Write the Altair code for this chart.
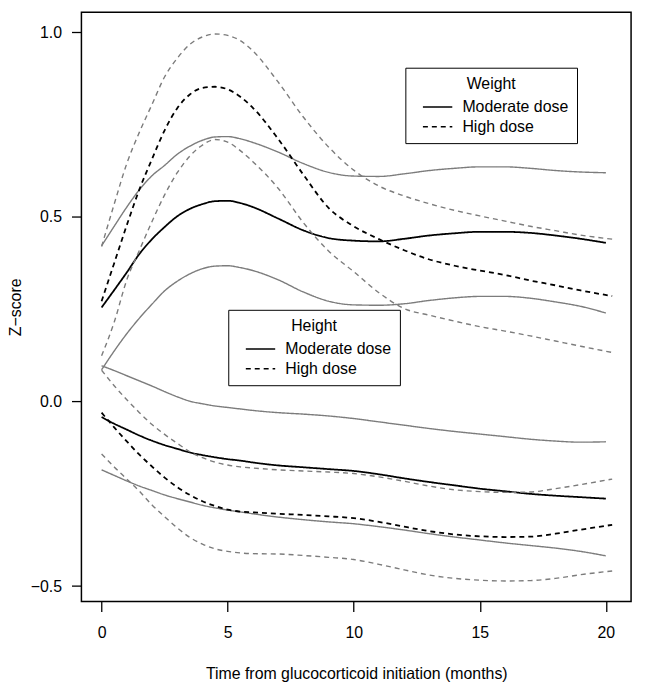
import altair as alt
import pandas as pd

# ---- data ----
X_MOD = [0, 0.5, 1, 1.5, 2, 2.5, 3, 3.5, 4, 4.5, 5, 5.5, 6, 7, 8, 9, 10,
         11, 12, 13, 14, 15, 16, 17, 18, 19, 20]
X_HIGH = [0, 0.5, 1, 1.5, 2, 2.5, 3, 3.5, 4, 4.5, 5, 5.5, 6, 7, 8, 9, 10,
          11, 12, 13, 14, 15, 16, 17, 18, 19, 20.25]

# Weight, moderate dose: estimate, upper and lower limits
W_MOD = [0.255, 0.302, 0.350, 0.400, 0.440, 0.473, 0.502, 0.522, 0.535, 0.543,
         0.544, 0.538, 0.527, 0.496, 0.464, 0.443, 0.436, 0.434, 0.441, 0.450,
         0.456, 0.460, 0.460, 0.457, 0.450, 0.441, 0.430]
W_MOD_UP = [0.422, 0.475, 0.527, 0.574, 0.612, 0.640, 0.670, 0.692, 0.708, 0.717,
            0.718, 0.712, 0.702, 0.676, 0.645, 0.621, 0.611, 0.610, 0.617, 0.626,
            0.632, 0.636, 0.636, 0.632, 0.626, 0.622, 0.620]
W_MOD_LO = [0.086, 0.137, 0.184, 0.226, 0.264, 0.300, 0.326, 0.346, 0.360, 0.367,
            0.368, 0.363, 0.355, 0.330, 0.297, 0.272, 0.262, 0.261, 0.265, 0.274,
            0.281, 0.285, 0.285, 0.280, 0.270, 0.258, 0.240]
# Weight, high dose
W_HIGH = [0.272, 0.375, 0.478, 0.575, 0.657, 0.735, 0.795, 0.832, 0.850, 0.853,
          0.846, 0.826, 0.796, 0.712, 0.615, 0.525, 0.475, 0.440, 0.410, 0.385,
          0.368, 0.355, 0.343, 0.328, 0.315, 0.301, 0.286]
W_HIGH_UP = [0.420, 0.535, 0.645, 0.730, 0.805, 0.880, 0.930, 0.968, 0.988, 0.996,
             0.992, 0.978, 0.950, 0.866, 0.771, 0.690, 0.627, 0.584, 0.557, 0.536,
             0.518, 0.503, 0.489, 0.475, 0.463, 0.451, 0.440]
W_HIGH_LO = [0.124, 0.215, 0.330, 0.410, 0.488, 0.560, 0.620, 0.665, 0.695, 0.710,
             0.703, 0.680, 0.650, 0.578, 0.485, 0.408, 0.352, 0.295, 0.252, 0.234,
             0.218, 0.203, 0.191, 0.178, 0.164, 0.150, 0.133]
# Height, moderate dose
H_MOD = [-0.042, -0.060, -0.076, -0.092, -0.106, -0.118, -0.128, -0.138, -0.145, -0.151,
         -0.156, -0.160, -0.165, -0.173, -0.178, -0.183, -0.188, -0.197, -0.208, -0.218,
         -0.227, -0.236, -0.243, -0.250, -0.255, -0.259, -0.263]
H_MOD_UP = [0.097, 0.084, 0.070, 0.056, 0.042, 0.027, 0.013, 0.001, -0.006, -0.012,
            -0.016, -0.020, -0.024, -0.030, -0.034, -0.039, -0.046, -0.055, -0.064, -0.073,
            -0.081, -0.088, -0.095, -0.102, -0.107, -0.110, -0.109]
H_MOD_LO = [-0.185, -0.200, -0.215, -0.229, -0.241, -0.253, -0.263, -0.272, -0.281, -0.288,
            -0.294, -0.299, -0.304, -0.313, -0.320, -0.326, -0.331, -0.339, -0.348, -0.358,
            -0.367, -0.375, -0.383, -0.390, -0.397, -0.406, -0.418]
# Height, high dose
H_HIGH = [-0.030, -0.070, -0.108, -0.144, -0.176, -0.206, -0.232, -0.253, -0.270, -0.283,
          -0.293, -0.298, -0.300, -0.304, -0.307, -0.311, -0.316, -0.326, -0.339, -0.351,
          -0.360, -0.365, -0.367, -0.366, -0.358, -0.347, -0.334]
H_HIGH_UP = [0.085, 0.043, 0.005, -0.030, -0.062, -0.089, -0.113, -0.136, -0.152, -0.164,
             -0.172, -0.177, -0.180, -0.185, -0.188, -0.191, -0.195, -0.204, -0.216, -0.229,
             -0.239, -0.244, -0.246, -0.245, -0.236, -0.225, -0.210]
H_HIGH_LO = [-0.142, -0.177, -0.210, -0.243, -0.280, -0.312, -0.342, -0.368, -0.386, -0.399,
             -0.406, -0.410, -0.412, -0.413, -0.417, -0.422, -0.428, -0.441, -0.456, -0.470,
             -0.479, -0.484, -0.486, -0.485, -0.479, -0.469, -0.459]

DOSES = ["Moderate dose", "High dose"]
X_TICKS = [0, 5, 10, 15, 20]
Y_TICKS = [-0.5, 0.0, 0.5, 1.0]
X_TITLE = "Time from glucocorticoid initiation (months)"
Y_TITLE = "Z\u2212score"

FONT = "Liberation Sans"
GRAY = "#7c7c7c"

curves = [
    ("Weight", "Moderate dose", "est", "w_mod", X_MOD, W_MOD),
    ("Weight", "Moderate dose", "ci", "w_mod_up", X_MOD, W_MOD_UP),
    ("Weight", "Moderate dose", "ci", "w_mod_lo", X_MOD, W_MOD_LO),
    ("Weight", "High dose", "est", "w_high", X_HIGH, W_HIGH),
    ("Weight", "High dose", "ci", "w_high_up", X_HIGH, W_HIGH_UP),
    ("Weight", "High dose", "ci", "w_high_lo", X_HIGH, W_HIGH_LO),
    ("Height", "Moderate dose", "est", "h_mod", X_MOD, H_MOD),
    ("Height", "Moderate dose", "ci", "h_mod_up", X_MOD, H_MOD_UP),
    ("Height", "Moderate dose", "ci", "h_mod_lo", X_MOD, H_MOD_LO),
    ("Height", "High dose", "est", "h_high", X_HIGH, H_HIGH),
    ("Height", "High dose", "ci", "h_high_up", X_HIGH, H_HIGH_UP),
    ("Height", "High dose", "ci", "h_high_lo", X_HIGH, H_HIGH_LO),
]

rows = []
for panel, dose, kind, name, xs, ys in curves:
    for i, (xv, yv) in enumerate(zip(xs, ys)):
        rows.append({"panel": panel, "dose": dose, "kind": kind,
                     "curve": name, "x": xv, "y": yv, "order": i})
df = pd.DataFrame(rows)

x_enc = alt.X("x:Q",
              scale=alt.Scale(domain=[-0.8, 21.0], nice=False, zero=False),
              axis=alt.Axis(values=X_TICKS, title=X_TITLE, format="d",
                            tickSize=10, labelPadding=13, titlePadding=26,
                            domain=False, grid=False, labelFlush=False))
y_enc = alt.Y("y:Q",
              scale=alt.Scale(domain=[-0.5417, 1.0551], nice=False, zero=False),
              axis=alt.Axis(values=Y_TICKS, title=Y_TITLE, format=".1f",
                            tickSize=10, labelPadding=10, titlePadding=6.5,
                            domain=False, grid=False, labelFlush=False))

# a horizontal line symbol (custom path, unit square scaled by sqrt(size)/2)
LINE_SYMBOL = "M-3.7,0H3.7"


def legend(title, lx, ly):
    return alt.Legend(title=title, orient="none", legendX=lx, legendY=ly,
                      direction="vertical", symbolType=LINE_SYMBOL,
                      symbolStrokeColor="black", symbolStrokeWidth=1.5,
                      symbolSize=64, labelOffset=17, symbolOffset=16,
                      padding=8.5, titlePadding=7, rowPadding=4,
                      titleAnchor="middle", strokeColor="black",
                      fillColor="white", labelLimit=300)


def layer(panel, lx, ly):
    return alt.Chart(df[df.panel == panel]).mark_line(
        interpolate="monotone", clip=True
    ).encode(
        x=x_enc,
        y=y_enc,
        strokeDash=alt.StrokeDash(
            "dose:N",
            scale=alt.Scale(domain=DOSES, range=[[1, 0], [5, 4]]),
            legend=legend(panel, lx, ly)),
        color=alt.Color("kind:N",
                        scale=alt.Scale(domain=["est", "ci"], range=["black", GRAY]),
                        legend=None),
        strokeWidth=alt.StrokeWidth("kind:N",
                                    scale=alt.Scale(domain=["est", "ci"], range=[1.8, 1.4]),
                                    legend=None),
        detail="curve:N",
        order="order:Q",
    )


chart = alt.layer(
    layer("Weight", 326.5, 56),
    layer("Height", 148, 300),
).resolve_scale(
    strokeDash="independent"
).properties(
    width=554, height=594,
    autosize=alt.AutoSizeParams(type="none"),
    padding={"left": 74, "top": 1.5, "right": 10, "bottom": 86},
).configure_view(
    stroke="black", strokeWidth=1.5, fill="white"
).configure_axis(
    labelFont=FONT, titleFont=FONT, labelFontSize=16, titleFontSize=16,
    titleFontWeight="normal", labelColor="black", titleColor="black",
    tickColor="black", tickWidth=1.3
).configure_legend(
    labelFont=FONT, titleFont=FONT, labelFontSize=16, titleFontSize=16,
    titleFontWeight="normal", labelColor="black", titleColor="black"
)

chart.save("out.html", embed_options={"renderer": "svg", "actions": False})
